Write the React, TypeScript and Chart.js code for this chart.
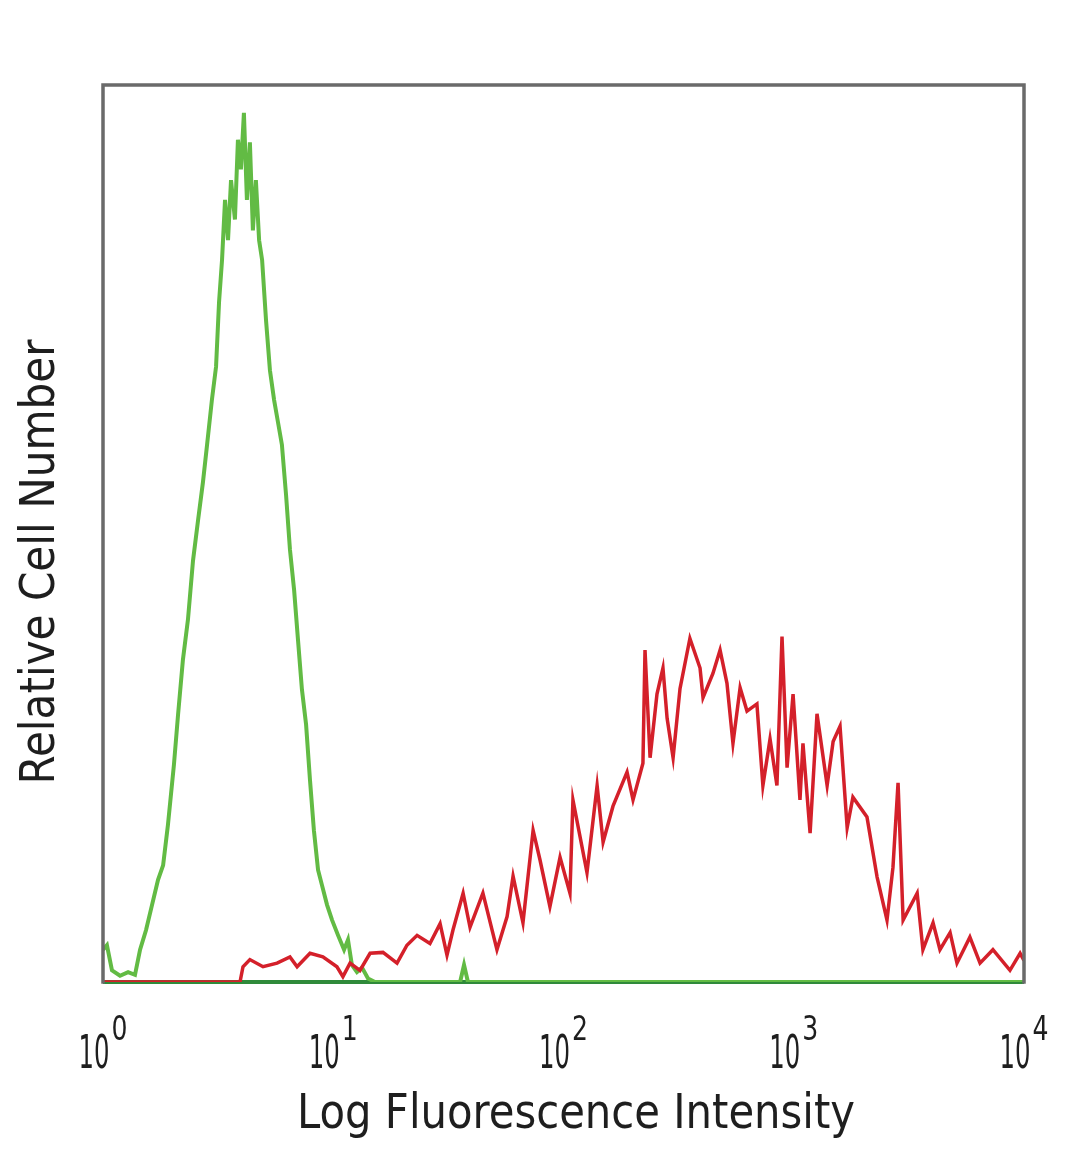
import React, { useEffect, useRef } from "react";
import { Chart, registerables } from "chart.js";

Chart.register(...registerables);

// x values are log10(fluorescence intensity); y values are relative cell number (% of full scale)
const greenLogX = [0, 0.017, 0.039, 0.074, 0.109, 0.139, 0.161, 0.187, 0.213, 0.239, 0.261, 0.282, 0.308, 0.326, 0.347, 0.369, 0.391, 0.413, 0.434, 0.452, 0.473, 0.491, 0.504, 0.517, 0.530, 0.543, 0.556, 0.573, 0.586, 0.599, 0.612, 0.625, 0.638, 0.651, 0.664, 0.678, 0.691, 0.708, 0.725, 0.743, 0.760, 0.777, 0.795, 0.812, 0.830, 0.847, 0.864, 0.882, 0.899, 0.916, 0.934, 0.951, 0.973, 0.995, 1.021, 1.047, 1.064, 1.081, 1.103, 1.125, 1.151, 1.181, 1.551, 1.568, 1.585, 4.0];
const greenCount = [3.6, 4.1, 1.3, 0.7, 1.1, 0.8, 3.6, 5.8, 8.6, 11.4, 13.0, 17.5, 24.2, 29.8, 35.9, 40.4, 47.0, 51.5, 55.7, 59.9, 64.9, 68.6, 75.8, 80.5, 87.2, 82.7, 89.4, 85.0, 93.9, 90.6, 96.9, 87.2, 93.6, 83.8, 89.4, 82.7, 80.5, 73.8, 68.2, 64.9, 62.4, 59.9, 54.3, 48.2, 43.7, 38.1, 32.6, 28.7, 22.5, 16.9, 12.5, 10.8, 8.6, 6.9, 5.2, 3.6, 4.7, 1.9, 1.1, 1.6, 0.4, 0, 0, 1.9, 0, 0];

const redLogX = [0, 0.595, 0.608, 0.638, 0.695, 0.756, 0.812, 0.843, 0.899, 0.955, 1.016, 1.042, 1.073, 1.116, 1.160, 1.216, 1.277, 1.320, 1.364, 1.420, 1.464, 1.494, 1.520, 1.564, 1.594, 1.650, 1.711, 1.755, 1.781, 1.824, 1.868, 1.898, 1.941, 1.985, 2.028, 2.041, 2.102, 2.146, 2.172, 2.215, 2.276, 2.302, 2.345, 2.354, 2.376, 2.406, 2.432, 2.450, 2.476, 2.506, 2.549, 2.593, 2.606, 2.649, 2.680, 2.710, 2.736, 2.767, 2.797, 2.840, 2.866, 2.897, 2.927, 2.949, 2.971, 2.997, 3.027, 3.040, 3.071, 3.101, 3.145, 3.171, 3.201, 3.232, 3.257, 3.318, 3.362, 3.405, 3.431, 3.453, 3.475, 3.536, 3.561, 3.605, 3.635, 3.679, 3.709, 3.765, 3.809, 3.865, 3.939, 3.983, 4.0];
const redCount = [0, 0, 1.7, 2.5, 1.7, 2.1, 2.8, 1.7, 3.2, 2.8, 1.7, 0.6, 2.1, 1.3, 3.2, 3.3, 2.1, 4.1, 5.2, 4.3, 6.5, 3.0, 5.8, 9.9, 6.1, 9.9, 3.6, 7.3, 11.8, 6.6, 16.9, 13.6, 8.4, 13.9, 9.9, 20.3, 12.2, 21.9, 15.6, 19.6, 23.4, 20.3, 24.4, 37.0, 25.0, 32.1, 35.0, 29.4, 25.0, 32.7, 38.3, 35.0, 31.7, 34.4, 37.0, 33.3, 26.6, 32.8, 30.2, 31.0, 21.9, 27.1, 21.9, 38.5, 23.9, 32.1, 20.3, 26.6, 16.6, 29.9, 21.9, 26.8, 28.5, 17.2, 20.6, 18.4, 11.7, 6.9, 12.8, 22.2, 6.9, 9.9, 3.6, 6.6, 3.6, 5.5, 2.1, 5.0, 2.1, 3.6, 1.3, 3.2, 2.4];

const tickExponents = [0, 1, 2, 3, 4];
const tickBase = "10";
const xTitle = "Log Fluorescence Intensity";
const yTitle = "Relative Cell Number";

const FONT = "'DejaVu Sans', 'Noto Sans', sans-serif";

function drawScaled(
  ctx: CanvasRenderingContext2D,
  text: string,
  x: number,
  y: number,
  size: number,
  targetW: number,
  align: "left" | "center"
) {
  ctx.save();
  ctx.font = `${size}px ${FONT}`;
  const w = ctx.measureText(text).width;
  const sx = targetW / w;
  ctx.translate(x, y);
  ctx.scale(sx, 1);
  ctx.textAlign = align;
  ctx.textBaseline = "alphabetic";
  ctx.fillText(text, 0, 0);
  ctx.restore();
}

export default function App() {
  const ref = useRef<HTMLCanvasElement>(null);

  useEffect(() => {
    const canvas = ref.current;
    if (!canvas) return;
    const toPts = (lx: number[], ys: number[]) =>
      lx.map((v, i) => ({ x: Math.pow(10, v), y: ys[i] }));

    const framePlugin = {
      id: "frame",
      beforeDatasetsDraw(chart: any) {
        const { ctx, chartArea: a } = chart;
        ctx.save();
        ctx.strokeStyle = "#2f8a3a";
        ctx.lineWidth = 4;
        ctx.beginPath();
        ctx.moveTo(a.left, a.bottom);
        ctx.lineTo(a.right, a.bottom);
        ctx.stroke();
        ctx.restore();
      },
      afterDatasetsDraw(chart: any) {
        const { ctx, chartArea: a } = chart;
        ctx.save();
        ctx.strokeStyle = "#6a6a6a";
        ctx.lineWidth = 3.5;
        ctx.lineCap = "square";
        ctx.beginPath();
        ctx.moveTo(a.left, a.bottom);
        ctx.lineTo(a.left, a.top);
        ctx.lineTo(a.right, a.top);
        ctx.lineTo(a.right, a.bottom);
        ctx.stroke();
        ctx.restore();
      },
      afterDraw(chart: any) {
        const { ctx, chartArea: a } = chart;
        const xs = chart.scales.x;
        ctx.save();
        ctx.fillStyle = "#1e1e1e";
        // tick labels 10^n
        const baseW = 31;
        const supW = 16;
        const gap = 2;
        const total = baseW + gap + supW;
        tickExponents.forEach((e) => {
          const px = xs.getPixelForValue(Math.pow(10, e));
          const start = px - total / 2;
          drawScaled(ctx, tickBase, start, a.bottom + 86, 46, baseW, "left");
          drawScaled(ctx, String(e), start + baseW + gap, a.bottom + 58, 33, supW, "left");
        });
        // x title
        drawScaled(ctx, xTitle, 576, a.bottom + 146, 48, 558, "center");
        // y title
        ctx.save();
        ctx.translate(54, 562);
        ctx.rotate(-Math.PI / 2);
        drawScaled(ctx, yTitle, 0, 0, 48, 445, "center");
        ctx.restore();
        ctx.restore();
      },
    };

    const chart = new Chart(canvas, {
      type: "line",
      data: {
        datasets: [
          {
            label: "Stained",
            data: toPts(redLogX, redCount),
            borderColor: "#d4202a",
            borderWidth: 3.5,
            pointRadius: 0,
            tension: 0,
            fill: false,
          },
          {
            label: "Control",
            data: toPts(greenLogX, greenCount),
            borderColor: "#62bb44",
            borderWidth: 4,
            pointRadius: 0,
            tension: 0,
            fill: false,
          },
        ],
      },
      options: {
        responsive: false,
        animation: false,
        devicePixelRatio: 1,
        layout: { padding: { left: 103, right: 56, top: 85, bottom: 187 } },
        plugins: { legend: { display: false }, tooltip: { enabled: false } },
        scales: {
          x: { type: "logarithmic", min: 1, max: 10000, display: false },
          y: { type: "linear", min: 0, max: 100, display: false },
        },
      },
      plugins: [framePlugin],
    } as any);

    return () => chart.destroy();
  }, []);

  return (
    <div style={{ position: "absolute", left: 0, top: 0, width: 1080, height: 1169, background: "#fff" }}>
      <canvas ref={ref} width={1080} height={1169} style={{ display: "block", width: 1080, height: 1169 }} />
    </div>
  );
}
